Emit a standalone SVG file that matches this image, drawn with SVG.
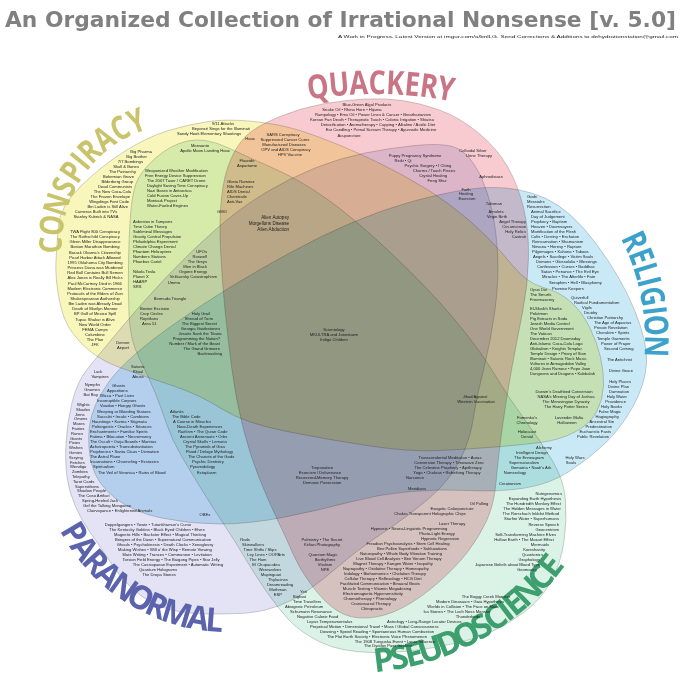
<svg xmlns="http://www.w3.org/2000/svg" width="681" height="681" viewBox="0 0 681 681">
<style>
.s{mix-blend-mode:multiply;stroke:#555;stroke-opacity:.4;stroke-width:.7}
.t{font-family:"Liberation Sans",Arial,sans-serif;font-size:4.15px;fill:#222}
.m{text-anchor:middle}.e{text-anchor:end}
.L{font-family:"Open Sans","DejaVu Sans",sans-serif;font-weight:bold;font-size:33px;text-anchor:middle}
</style>
<rect width="681" height="681" fill="#fff"/>
<g id="title">
<text x="5" y="27" font-family="DejaVu Sans,sans-serif" font-weight="bold" font-size="21" fill="#808080" textLength="671" lengthAdjust="spacingAndGlyphs">An Organized Collection of Irrational Nonsense  [v. 5.0]</text>
<text x="338" y="38" class="t" font-size="4" textLength="340" lengthAdjust="spacingAndGlyphs">A Work in Progress.  Latest Version at imgur.com/a/bnlLG.  Send Corrections &amp; Additions to dehydrationstation@gmail.com</text>
</g>
<g id="sets">
<path id="s-conspiracy" class="s" fill="#f9f6bb" d="M 56,260 Q 57,243 58.5,225 Q 60,207 80,187 Q 100,167 123.5,152 Q 147,137 168.5,130.5 Q 190,124 208.5,121.5 Q 227,119 248.5,121 Q 270,123 285,126.5 Q 300,130 320,137.5 Q 340,145 360,154 Q 380,163 405,176.5 Q 430,190 450,205 Q 470,220 485,235 Q 500,250 513.5,266.5 Q 527,283 543.5,287.5 Q 560,292 571,302 Q 582,312 589.5,327 Q 597,342 600.5,357 Q 604,372 603.5,386 Q 603,400 596.5,412 Q 590,424 575,432 Q 560,440 540,442.5 Q 520,445 495,447 Q 470,449 440,450.5 Q 410,452 370,446 Q 330,440 287,431.5 Q 244,423 222,409 Q 200,395 175,386.5 Q 150,378 132.5,372 Q 115,366 106,361.5 Q 97,357 88.5,350 Q 80,343 71.5,331.5 Q 63,320 59,298.5 Q 55,277 56,260 Z"/>
<path id="s-quackery" class="s" fill="#f8cbd1" d="M 230.5,160 Q 237,145 246,136 Q 255,127 277.5,117.5 Q 300,108 322.5,104 Q 345,100 365,99 Q 385,98 402.5,100.5 Q 420,103 439.5,110 Q 459,117 478,132.5 Q 497,148 507.5,166.5 Q 518,185 523.5,207.5 Q 529,230 528.5,257.5 Q 528,285 522.5,312.5 Q 517,340 511.5,370 Q 506,400 502,430 Q 498,460 496,482.5 Q 494,505 486.5,521 Q 479,537 468,551.5 Q 457,566 439,582 Q 421,598 403,607.5 Q 385,617 367.5,618 Q 350,619 337.5,611 Q 325,603 312.5,586.5 Q 300,570 293.5,555 Q 287,540 277.5,520 Q 268,500 259,477.5 Q 250,455 243,427.5 Q 236,400 232,370 Q 228,340 225,310 Q 222,280 220.5,250 Q 219,220 221.5,197.5 Q 224,175 230.5,160 Z"/>
<path id="s-religion" class="s" fill="#cae9f7" d="M 407,203 Q 460,188 490.5,187.5 Q 521,187 546,198.5 Q 571,210 596,243.5 Q 621,277 634.5,310 Q 648,343 646.5,364 Q 645,385 633,406.5 Q 621,428 605.5,443 Q 590,458 570,471 Q 550,484 525,488 Q 500,492 470,490.5 Q 440,489 410,491.5 Q 380,494 350,502 Q 320,510 285,517 Q 250,524 220,524 Q 190,524 161.5,518 Q 133,512 115,498 Q 97,484 92,465.5 Q 87,447 89.5,426 Q 92,405 109.5,381 Q 127,357 177,322 Q 227,287 290.5,252.5 Q 354,218 407,203 Z"/>
<path id="s-pseudoscience" class="s" fill="#dbf3e7" d="M 130.5,215 Q 132,195 136,183.5 Q 140,172 155,158.5 Q 170,145 187.5,141 Q 205,137 227.5,147.5 Q 250,158 275,169 Q 300,180 327,199 Q 354,218 392,254 Q 430,290 455,320 Q 480,350 495,375 Q 510,400 525,420 Q 540,440 552,460 Q 564,480 565.5,500 Q 567,520 564,541.5 Q 561,563 551,581.5 Q 541,600 523,613 Q 505,626 489,633 Q 473,640 440,646.5 Q 407,653 373.5,652.5 Q 340,652 320,642 Q 300,632 288.5,619.5 Q 277,607 266,591 Q 255,575 245,558 Q 235,541 224,524.5 Q 213,508 202.5,491 Q 192,474 182,457 Q 172,440 167,425 Q 162,410 155,392.5 Q 148,375 139,357.5 Q 130,340 129,315 Q 128,290 128.5,262.5 Q 129,235 130.5,215 Z"/>
<path id="s-paranormal" class="s" fill="#e3e3f5" d="M 72,402.5 Q 77,382 87,369.5 Q 97,357 118.5,331 Q 140,305 165,278.5 Q 190,252 215,230 Q 240,208 265,193 Q 290,178 315,168 Q 340,158 365,153 Q 390,148 415,145.5 Q 440,143 452.5,146.5 Q 465,150 474.5,165 Q 484,180 490,202.5 Q 496,225 497.5,252.5 Q 499,280 495,310 Q 491,340 483.5,370 Q 476,400 473,420 Q 470,440 460,460 Q 450,480 430,497.5 Q 410,515 385,531.5 Q 360,548 342.5,563 Q 325,578 310,589 Q 295,600 278.5,606 Q 262,612 247.5,613 Q 233,614 210,614 Q 187,614 170,609.5 Q 153,605 140,595 Q 127,585 118.5,573.5 Q 110,562 103.5,552 Q 97,542 89.5,531.5 Q 82,521 75.5,506.5 Q 69,492 67,477.5 Q 65,463 66,443 Q 67,423 72,402.5 Z"/>
</g>
<g id="label-conspiracy" fill="#c9c46a">
<text class="L" transform="translate(62,245) rotate(-90) scale(.79,1)">C</text>
<text class="L" transform="translate(63.3,227.1) rotate(-81.5) scale(.79,1)">O</text>
<text class="L" transform="translate(67.8,207.9) rotate(-72.15) scale(.79,1)">N</text>
<text class="L" transform="translate(74.3,191.8) rotate(-63.9) scale(.79,1)">S</text>
<text class="L" transform="translate(82.1,178.3) rotate(-56.55) scale(.79,1)">P</text>
<text class="L" transform="translate(89.3,168.4) rotate(-50.7) scale(.79,1)">I</text>
<text class="L" transform="translate(97.7,159.2) rotate(-44.85) scale(.79,1)">R</text>
<text class="L" transform="translate(110.8,147.9) rotate(-36.6) scale(.79,1)">A</text>
<text class="L" transform="translate(125.4,138.6) rotate(-28.4) scale(.79,1)">C</text>
<text class="L" transform="translate(140.3,131.7) rotate(-20.7) scale(.79,1)">Y</text>
</g>
<g id="label-quackery" fill="#c97585">
<text class="L" transform="translate(319.5,97.9) rotate(-7.97) scale(.82,1)">Q</text>
<text class="L" transform="translate(339.9,95.6) rotate(-5.03) scale(.82,1)">U</text>
<text class="L" transform="translate(359.1,94.3) rotate(-2.28) scale(.82,1)">A</text>
<text class="L" transform="translate(377.1,94) rotate(0.3) scale(.82,1)">C</text>
<text class="L" transform="translate(394.8,94.5) rotate(2.83) scale(.82,1)">K</text>
<text class="L" transform="translate(411.3,95.6) rotate(5.21) scale(.82,1)">E</text>
<text class="L" transform="translate(427.5,97.5) rotate(7.54) scale(.82,1)">R</text>
<text class="L" transform="translate(444,100) rotate(9.94) scale(.82,1)">Y</text>
</g>
<g id="label-religion" fill="#3ca2cb">
<text class="L" transform="translate(624.3,245.8) rotate(65.26) scale(.8,1)">R</text>
<text class="L" transform="translate(630.5,260.5) rotate(69.31) scale(.8,1)">E</text>
<text class="L" transform="translate(635.1,274.1) rotate(72.96) scale(.8,1)">L</text>
<text class="L" transform="translate(638.1,284.6) rotate(75.76) scale(.8,1)">I</text>
<text class="L" transform="translate(641.1,298.3) rotate(79.31) scale(.8,1)">G</text>
<text class="L" transform="translate(643.2,312) rotate(82.86) scale(.8,1)">I</text>
<text class="L" transform="translate(644.6,325.9) rotate(86.4) scale(.8,1)">O</text>
<text class="L" transform="translate(644.9,345.9) rotate(91.5) scale(.8,1)">N</text>
</g>
<g id="label-pseudoscience" fill="#3d9e6e">
<text class="L" font-size="27" transform="translate(385.1,671) rotate(-7.01)">P</text>
<text class="L" font-size="27" transform="translate(401.4,668.5) rotate(-10.61)">S</text>
<text class="L" font-size="27" transform="translate(416.6,665.2) rotate(-14)">E</text>
<text class="L" font-size="27" transform="translate(433.9,660.2) rotate(-17.91)">U</text>
<text class="L" font-size="27" transform="translate(453,653.3) rotate(-22.34)">D</text>
<text class="L" font-size="27" transform="translate(471.5,644.8) rotate(-26.79)">O</text>
<text class="L" font-size="27" transform="translate(487.4,636.1) rotate(-30.72)">S</text>
<text class="L" font-size="27" transform="translate(501.4,627.1) rotate(-34.36)">C</text>
<text class="L" font-size="27" transform="translate(512.2,619.3) rotate(-37.24)">I</text>
<text class="L" font-size="27" transform="translate(521.6,611.9) rotate(-39.87)">E</text>
<text class="L" font-size="27" transform="translate(535.4,599.5) rotate(-43.9)">N</text>
<text class="L" font-size="27" transform="translate(549,585.4) rotate(-48.17)">C</text>
<text class="L" font-size="27" transform="translate(559.7,572.5) rotate(-51.81)">E</text>
</g>
<g id="label-paranormal" fill="#5b63ad">
<text class="L" font-size="30" transform="translate(64.5,538.7) rotate(59.39) scale(.95,1)">P</text>
<text class="L" font-size="30" transform="translate(75.3,555) rotate(53.51) scale(.95,1)">A</text>
<text class="L" font-size="30" transform="translate(87.3,569.6) rotate(47.79) scale(.95,1)">R</text>
<text class="L" font-size="30" transform="translate(100.6,583) rotate(42.08) scale(.95,1)">A</text>
<text class="L" font-size="30" transform="translate(116.8,596.1) rotate(35.81) scale(.95,1)">N</text>
<text class="L" font-size="30" transform="translate(135,607.7) rotate(29.32) scale(.95,1)">O</text>
<text class="L" font-size="30" transform="translate(152.6,616.4) rotate(23.39) scale(.95,1)">R</text>
<text class="L" font-size="30" transform="translate(173.7,624.1) rotate(16.6) scale(.95,1)">M</text>
<text class="L" font-size="30" transform="translate(196.3,629.3) rotate(9.6) scale(.95,1)">A</text>
<text class="L" font-size="30" transform="translate(213.6,631.4) rotate(4.36) scale(.95,1)">L</text>
</g>
<g id="conspiracy-items" class="t">
<text class="e"><tspan x="152" y="153">Big Pharma</tspan><tspan x="147" y="158">Big Brother</tspan><tspan x="143" y="163">7/7 Bombings</tspan><tspan x="139" y="168">Skull &amp; Bones</tspan><tspan x="136" y="173">The Patriarchy</tspan><tspan x="134" y="178">Bohemian Grove</tspan><tspan x="133" y="183">Bilderberg Group</tspan><tspan x="132" y="188">Dead Communists</tspan><tspan x="131" y="193">The New Coca-Cola</tspan><tspan x="130" y="198">The Frozen Envelope</tspan><tspan x="129" y="203">Wingdings Font Code</tspan><tspan x="128" y="208">Bin Laden is Still Alive</tspan></text>
<text class="m"><tspan x="96" y="213">Cameras Built into TVs</tspan><tspan x="96" y="218">Stanley Kubrick &amp; NASA</tspan></text>
<text class="m"><tspan x="95" y="233">TWA Flight 800 Conspiracy</tspan><tspan x="95" y="238.15">The Rothschild Conspiracy</tspan><tspan x="95" y="243.3">Glenn Miller Disappearance</tspan><tspan x="95" y="248.45">Boston Marathon Bombing</tspan><tspan x="95" y="253.6">Barack Obama's Citizenship</tspan><tspan x="95" y="258.75">Pearl Harbor Attack Allowed</tspan><tspan x="95" y="263.9">1995 Oklahoma City Bombing</tspan><tspan x="95" y="269">Princess Diana was Murdered</tspan><tspan x="95" y="274.2">Red Bull Contains Bull Semen</tspan><tspan x="95" y="279.4">Alex Jones is Really Bill Hicks</tspan><tspan x="95" y="284.5">Paul McCartney Died in 1966</tspan><tspan x="95" y="289.7">Modern Electronic Commerce</tspan><tspan x="95" y="294.8">Protocols of the Elders of Zion</tspan><tspan x="95" y="300">Shakespearean Authorship</tspan><tspan x="95" y="305.1">Bin Laden was Already Dead</tspan><tspan x="95" y="310.3">Death of Marilyn Monroe</tspan><tspan x="95" y="315.4">BP Gulf of Mexico Spill</tspan><tspan x="95" y="320.6">Tupac Shakur is Alive</tspan><tspan x="95" y="325.7">New World Order</tspan><tspan x="95" y="330.9">FEMA Camps</tspan><tspan x="95" y="336">Columbine</tspan><tspan x="95" y="341.2">The Plan</tspan><tspan x="95" y="346.3">JFK</tspan></text>
<text class="m"><tspan x="223" y="125">9/11 Attacks</tspan><tspan x="221" y="130">Beyoncé Sings for the Illuminati</tspan><tspan x="209" y="135">Sandy Hook Elementary Shootings</tspan><tspan x="250" y="140">Hoax</tspan></text>
</g>
<g id="conspiracy-pseudoscience-items" class="t">
<text class="m"><tspan x="200" y="147">Monsanto</tspan><tspan x="205" y="152">Apollo Moon Landing Hoax</tspan></text>
<text><tspan x="145" y="172">Weaponized Weather Modification</tspan><tspan x="145" y="177">Free Energy Device Suppression</tspan><tspan x="147" y="182">The 2007 Taser / CARET Drone</tspan><tspan x="147" y="187">Daylight Saving Time Conspiracy</tspan><tspan x="147" y="192">Nazi Bases in Antarctica</tspan><tspan x="147" y="197">Cold Fusion Cover-Up</tspan><tspan x="147" y="202">Montauk Project</tspan><tspan x="147" y="207">Water-Fueled Engines</tspan></text>
<text><tspan x="133" y="223">Asbestos in Tampons</tspan><tspan x="133" y="228">Time Cube Theory</tspan><tspan x="133" y="233">Subliminal Messages</tspan><tspan x="133" y="238">Gravity Control Propulsion</tspan><tspan x="133" y="243">Philadelphia Experiment</tspan><tspan x="133" y="248">Climate Change Denial</tspan><tspan x="133" y="253">Phantom Helicopters</tspan><tspan x="133" y="258">Numbers Stations</tspan><tspan x="133" y="263">Phoebus Cartel</tspan></text>
<text><tspan x="133" y="273">Nikola Tesla</tspan><tspan x="133" y="278">Planet X</tspan><tspan x="133" y="283">HAARP</tspan><tspan x="133" y="288">SRS</tspan></text>
<text class="e"><tspan x="207" y="253">UFOs</tspan><tspan x="207" y="258">Roswell</tspan><tspan x="207" y="263">The Greys</tspan><tspan x="207" y="268">Men in Black</tspan><tspan x="207" y="273">Orgone Energy</tspan><tspan x="217" y="278">Velikovsky Catastrophism</tspan><tspan x="180" y="284">Ummo</tspan></text>
<text class="m" x="170" y="300">Bermuda Triangle</text>
</g>
<g id="conspiracy-quackery-items" class="t">
<text class="m"><tspan x="283" y="136">SARS Conspiracy</tspan><tspan x="285" y="141">Suppressed Cancer Cures</tspan><tspan x="284" y="146">Manufactured Diseases</tspan><tspan x="286" y="151">OPV and AIDS Conspiracy</tspan><tspan x="290" y="156">HPV Vaccine</tspan></text>
<text class="m"><tspan x="247" y="162">Fluoride</tspan><tspan x="247" y="167">Aspartame</tspan></text>
<text><tspan x="227" y="183">Gloria Ramirez</tspan><tspan x="227" y="188">Rife Machines</tspan><tspan x="227" y="193">AIDS Denial</tspan><tspan x="227" y="198">Chemtrails</tspan><tspan x="227" y="203">Anti-Vax</tspan></text>
<text class="m" x="222" y="213">GMO</text>
<text class="e" font-size="4.6"><tspan x="289" y="219">Alien Autopsy</tspan><tspan x="289" y="225">Morgellons Disease</tspan><tspan x="289" y="231">Alien Abduction</tspan></text>
</g>
<g id="conspiracy-paranormal-items" class="t">
<text><tspan x="140" y="310">Bovine Excision</tspan><tspan x="140" y="315">Crop Circles</tspan><tspan x="140" y="320">Reptilians</tspan><tspan x="142" y="325">Area 51</tspan></text>
<text class="e"><tspan x="210" y="315">Holy Grail</tspan><tspan x="213" y="320">Shroud of Turin</tspan><tspan x="217" y="325">The Biggest Secret</tspan><tspan x="220" y="330">Georgia Guidestones</tspan><tspan x="222" y="335">Jesuits Sank the Titanic</tspan><tspan x="220" y="340">Programming the Nation?</tspan><tspan x="220" y="345">Number / Mark of the Beast</tspan><tspan x="220" y="350">The Grand Grimoire</tspan><tspan x="222" y="355">Backmasking</tspan></text>
<text class="m"><tspan x="123" y="344">Denver</tspan><tspan x="123" y="349">Airport</tspan></text>
<text class="m"><tspan x="98" y="373">Luck</tspan><tspan x="100" y="378">Vampires</tspan></text>
<text class="m"><tspan x="138" y="368">Satanic</tspan><tspan x="138" y="373">Ritual</tspan><tspan x="138" y="378">Abuse</tspan></text>
</g>
<g id="quackery-items" class="t">
<text class="m"><tspan x="367" y="106">Blue-Green Algal Products</tspan><tspan x="352" y="111">Snake Oil • Rhino Horn • Hijama</tspan><tspan x="373" y="116">Rumpology • Emu Oil • Power Lines &amp; Cancer • Breatharianism</tspan><tspan x="372" y="121">Korean Fan Death • Therapeutic Touch • Colonic Irrigation • Shiatsu</tspan><tspan x="378" y="126">Detoxification • Aromatherapy • Cupping • Alkaline / Acidic Diet</tspan><tspan x="381" y="131">Ear Candling • Primal Scream Therapy • Ayurvedic Medicine</tspan><tspan x="349" y="137">Acupuncture</tspan></text>
<text class="m"><tspan x="473" y="152">Colloidal Silver</tspan><tspan x="479" y="157">Urine Therapy</tspan><tspan x="491" y="178">Aphrodisiacs</tspan></text>
<text class="m"><tspan x="415" y="157">Puppy Pregnancy Syndrome</tspan><tspan x="403" y="162">Reiki • Qi</tspan><tspan x="428" y="167">Psychic Surgery • I Ching</tspan><tspan x="434" y="172">Charms / Touch Pieces</tspan><tspan x="433" y="177">Crystal Healing</tspan><tspan x="437" y="182">Feng Shui</tspan></text>
<text class="m"><tspan x="466" y="190.5">Faith</tspan><tspan x="466" y="195.3">Healing</tspan><tspan x="467" y="200.1">Exorcism</tspan><tspan x="494" y="205">Talisman</tspan><tspan x="496" y="213">Amulets</tspan><tspan x="497" y="218">Virgin Birth</tspan></text>
<text class="e"><tspan x="526" y="223">Angel Therapy</tspan><tspan x="526" y="228">Circumcision</tspan><tspan x="526" y="233">Holy Relics</tspan><tspan x="526" y="238">Castrati</tspan></text>
</g>
<g id="religion-items" class="t">
<text><tspan x="527" y="198">Gods</tspan><tspan x="527" y="203">Messiahs</tspan><tspan x="527" y="208">Resurrection</tspan><tspan x="531" y="213">Animal Sacrifice</tspan><tspan x="531" y="218">Day of Judgement</tspan><tspan x="531" y="223">Prophecy • Baptism</tspan><tspan x="531" y="228">Heaven • Doomsayers</tspan><tspan x="531" y="233">Mortification of the Flesh</tspan><tspan x="531" y="238">Cults • Destiny • Eschaton</tspan><tspan x="532" y="243">Reincarnation • Shamanism</tspan><tspan x="532" y="248">Nirvana • Heresy • Rapture</tspan><tspan x="532" y="253">Pilgrimages • Kahuna • Taboos</tspan><tspan x="533" y="258">Angels • Sacrilege • Victim Souls</tspan><tspan x="536" y="263">Demons • Glossolalia • Blessings</tspan><tspan x="537" y="268">Confession • Curses • Buddhas</tspan><tspan x="541" y="273">Satan • Penance • The Evil Eye</tspan><tspan x="542" y="278">Miracles • The Afterlife • Fate</tspan><tspan x="549" y="284">Seraphim • Hell • Blasphemy</tspan><tspan x="552" y="290">Promise Keepers</tspan></text>
<text><tspan x="571" y="299">Quiverfull</tspan><tspan x="574" y="304">Radical Fundamentalism</tspan><tspan x="582" y="309">Vigils</tspan><tspan x="584" y="314">Druidry</tspan><tspan x="587" y="319">Christian Patriarchy</tspan><tspan x="594" y="324">The Age of Aquarius</tspan><tspan x="594" y="329">Private Revelation</tspan><tspan x="596" y="334">Cherubim • Spirits</tspan><tspan x="597" y="340">Temple Garments</tspan><tspan x="601" y="345">Power of Prayer</tspan><tspan x="604" y="350">Second Coming</tspan><tspan x="607" y="361">The Antichrist</tspan><tspan x="609" y="372">Divine Grace</tspan></text>
<text class="e"><tspan x="631" y="383">Holy Places</tspan><tspan x="629" y="388">Divine Plan</tspan><tspan x="629" y="393">Damnation</tspan><tspan x="627" y="398">Holy Water</tspan><tspan x="626" y="403">Providence</tspan><tspan x="622" y="408">Holy Books</tspan><tspan x="621" y="413">False Magic</tspan><tspan x="619" y="418">Hagiography</tspan><tspan x="614" y="423">Ancestral Sin</tspan><tspan x="612" y="428">Predestination</tspan><tspan x="611" y="433">Eucharistic Fasts</tspan><tspan x="609" y="438">Public Revelation</tspan></text>
<text class="m"><tspan x="575" y="459">Holy Wars</tspan><tspan x="571" y="464">Souls</tspan></text>
</g>
<g id="conspiracy-religion-items" class="t">
<text><tspan x="530" y="291">Opus Dei</tspan><tspan x="530" y="296">The Smurfs</tspan><tspan x="530" y="301">Freemasonry</tspan><tspan x="530" y="310">El-Sheikh Sharks</tspan><tspan x="530" y="315">Pokémon</tspan><tspan x="530" y="320">Pig Extracts in Soda</tspan><tspan x="530" y="325">Jewish Media Control</tspan><tspan x="530" y="330">One World Government</tspan><tspan x="530" y="335">The Vatican</tspan><tspan x="530" y="340">December 2012 Doomsday</tspan><tspan x="530" y="345">Anti-Islamic Coca-Cola Logo</tspan><tspan x="530" y="350">Globalism • Knights Templar</tspan><tspan x="530" y="355">Temple Design • Priory of Sion</tspan><tspan x="530" y="360">Illuminati • Satanic Rock Music</tspan><tspan x="530" y="365">Vultures in Armageddon Valley</tspan><tspan x="530" y="370">4,000 Jews Rumour • Pope Joan</tspan><tspan x="530" y="375">Dungeons and Dragons • Kabbalah</tspan></text>
<text class="m"><tspan x="564" y="393">Darwin's Deathbed Conversion</tspan><tspan x="566" y="398">NASA's Missing Day of Joshua</tspan><tspan x="566" y="403">The Merovingian Dynasty</tspan><tspan x="566" y="408">The Harry Potter Series</tspan><tspan x="569" y="419">Lavender Mafia</tspan><tspan x="567" y="424">Halloween</tspan></text>
<text class="m"><tspan x="475" y="398">Jihad Against</tspan><tspan x="476" y="403">Western Vaccination</tspan></text>
<text class="m"><tspan x="527" y="419">Fomenko's</tspan><tspan x="527" y="424">Chronology</tspan><tspan x="527" y="433">Holocaust</tspan><tspan x="527" y="438">Denial</tspan></text>
<text class="m"><tspan x="544" y="449">Alchemy</tspan><tspan x="532" y="454">Intelligent Design</tspan><tspan x="529" y="459">The Enneagram</tspan><tspan x="524" y="464">Supernaturalism</tspan><tspan x="531" y="469">Gematria • Noah's Ark</tspan><tspan x="515" y="474">Numerology</tspan><tspan x="510" y="485">Creationism</tspan></text>
</g>
<g id="center-items" class="t">
<text class="m"><tspan x="334" y="331">Scientology</tspan><tspan x="334" y="336">MKULTRA and Jonestown</tspan><tspan x="334" y="341">Indigo Children</tspan></text>
<text class="m"><tspan x="322" y="469">Trepanation</tspan><tspan x="320" y="474">Exorcism / Deliverance</tspan><tspan x="322" y="479">Recovered-Memory Therapy</tspan><tspan x="322" y="484">Demonic Possession</tspan></text>
<text class="m"><tspan x="450" y="459">Transcendental Meditation • Auras</tspan><tspan x="449" y="464">Conversion Therapy • Timewave Zero</tspan><tspan x="448" y="469">The Celestine Prophecy • Apitherapy</tspan><tspan x="447" y="474">Yoga • Chakras • Rebirthing Therapy</tspan><tspan x="415" y="479">Narconon</tspan><tspan x="417" y="490">Meridians</tspan></text>
</g>
<g id="pseudoscience-items" class="t">
<text class="e"><tspan x="562" y="495">Nutrigenomics</tspan><tspan x="561" y="500">Expanding Earth Hypothesis</tspan><tspan x="561" y="505">The Hundredth Monkey Effect</tspan><tspan x="561" y="510">The Hidden Messages in Water</tspan><tspan x="559" y="515">The Rorschach Inkblot Method</tspan><tspan x="559" y="520">Starfire Water • Superhumans</tspan><tspan x="559" y="526">Reverse Speech</tspan><tspan x="559" y="531">Geocentrism</tspan><tspan x="556" y="536">Self-Transforming Machine Elves</tspan><tspan x="554" y="541">Hollow Earth • The Mozart Effect</tspan><tspan x="549" y="546">Mermaids</tspan><tspan x="545" y="551">Koreshanity</tspan><tspan x="543" y="556">Quantonics</tspan><tspan x="540" y="561">Graphology</tspan><tspan x="540" y="566">Japanese Beliefs about Blood Type</tspan><tspan x="537" y="571">Geomancy</tspan></text>
<text class="m"><tspan x="486" y="598">The Boggy Creek Monster</tspan><tspan x="470" y="603">Modern Dinosaurs • Gaia Hypothesis</tspan><tspan x="463" y="608">Worlds in Collision • The Face on Mars</tspan><tspan x="457" y="613">Ica Stones • The Loch Ness Monster</tspan><tspan x="468" y="618">Thunderbirds</tspan></text>
<text><tspan x="300" y="593">Yeti</tspan><tspan x="293" y="598">Bigfoot</tspan><tspan x="293" y="603">Time Travellers</tspan><tspan x="285" y="608">Abiogenic Petroleum</tspan><tspan x="290" y="613">Schumann Resonance</tspan><tspan x="297" y="618">Negative Calorie Food</tspan><tspan x="307" y="623">Lepus Temperamentalus</tspan><tspan x="387" y="623">Astrology • Long-Range Locator Devices</tspan><tspan x="310" y="628">Perpetual Motion • Dimensional Travel • Mass / Global Consciousness</tspan><tspan x="320" y="633">Dowsing • Speed Reading • Spontaneous Human Combustion</tspan><tspan x="327" y="638">The Flat Earth Society • Electronic Voice Phenomenon</tspan></text>
<text class="m"><tspan x="395" y="642.5">The 1908 Tunguska Event • Lunar Influence</tspan><tspan x="388" y="647">The Dyatlov Pass Incident</tspan></text>
</g>
<g id="quackery-pseudoscience-items" class="t">
<text class="m"><tspan x="479" y="505">Oil Pulling</tspan><tspan x="452" y="510">Esogetic Colorpuncture</tspan><tspan x="430" y="515">Chakra Transparent Holographic Chips</tspan><tspan x="452" y="525">Laser Therapy</tspan><tspan x="409" y="530">Hypnosis • Neuro-Linguistic Programming</tspan><tspan x="437" y="535">Photo-Light Energy</tspan><tspan x="440" y="540">Hypnotic Regression</tspan><tspan x="408" y="545">Freudian Psychoanalysis • Stem Cell Healing</tspan><tspan x="412" y="550">Bee Pollen Superfoods • Subluxations</tspan><tspan x="401" y="555">Naturopathy • Whole Body Vibration Training</tspan><tspan x="399" y="560">Live Blood Cell Analysis • Bee Venom Therapy</tspan><tspan x="393" y="565">Magnet Therapy • Kangen Water • Isopathy</tspan><tspan x="386" y="570">Naprapathy • Oxidative Therapy • Homeopathy</tspan><tspan x="385" y="575">Iridology • Bioharmonics • Chelation Therapy</tspan><tspan x="383" y="580">Cellular Therapy • Reflexology • HCG Diet</tspan><tspan x="380" y="585">Facilitated Communication • Binaural Beats</tspan><tspan x="377" y="590">Muscle Testing • Vitamin Megadosing</tspan><tspan x="373" y="595">Electromagnetic Hypersensitivity</tspan><tspan x="370" y="600">Chromotherapy • Phrenology</tspan><tspan x="371" y="605">Craniosacral Therapy</tspan><tspan x="372" y="610">Chiropractic</tspan></text>
<text class="m"><tspan x="322" y="541">Palmistry • The Secret</tspan><tspan x="322" y="546">Kirlian Photography</tspan><tspan x="323" y="556">Quantum Magic</tspan><tspan x="325" y="561">Biorhythms</tspan><tspan x="325" y="566">Vitalism</tspan><tspan x="325" y="571">NPE</tspan></text>
</g>
<g id="paranormal-items" class="t">
<text class="e"><tspan x="100" y="386">Nymphs</tspan><tspan x="100" y="391">Gnomes</tspan><tspan x="98" y="396">Bat Boy</tspan></text>
<text><tspan x="77" y="406">Wights</tspan><tspan x="76" y="410.8">Shades</tspan><tspan x="75" y="415.6">Jinns</tspan><tspan x="74" y="420.4">Omens</tspan><tspan x="73" y="425.2">Mares</tspan><tspan x="72" y="430">Fairies</tspan><tspan x="71" y="434.8">Runes</tspan><tspan x="70" y="439.6">Giants</tspan><tspan x="69" y="444.4">Pixies</tspan><tspan x="69" y="449.2">Wishes</tspan><tspan x="69" y="454">Genies</tspan><tspan x="69" y="458.8">Scrying</tspan><tspan x="70" y="463.6">Fetches</tspan><tspan x="70" y="468.4">Wendigo</tspan><tspan x="72" y="473.2">Zombies</tspan><tspan x="72" y="478">Telepathy</tspan><tspan x="73" y="482.8">Tarot Cards</tspan><tspan x="75" y="487.6">Superstitions</tspan><tspan x="77" y="492.4">Shadow People</tspan><tspan x="78" y="497.2">The Coso Artifact</tspan><tspan x="82" y="502">Spring-Heeled Jack</tspan><tspan x="83" y="506.8">Gef the Talking Mongoose</tspan><tspan x="87" y="511.6">Clairvoyance • Enlightened Animals</tspan></text>
<text class="m"><tspan x="148" y="526">Doppelgangers • Yowie • Tutankhamun's Curse</tspan><tspan x="157" y="531">The Kentucky Goblins • Black Eyed Children • Elves</tspan><tspan x="160" y="536">Magnetic Hills • Backster Effect • Magical Thinking</tspan><tspan x="163" y="541">Bringers of the Dawn • Supernatural Communication</tspan><tspan x="165" y="546">Ghouls • Psychokinesis • Death Clocks • Xenoglossy</tspan><tspan x="165" y="551">Making Wishes • Will o' the Wisp • Remote Viewing</tspan><tspan x="167" y="556">Slate Writing • Trances • Communion • Levitation</tspan><tspan x="171" y="561">Torsion Field Energy • The Baigong Pipes • Star Jelly</tspan><tspan x="178" y="566">The Cassiopaean Experiment • Automatic Writing</tspan><tspan x="158" y="571">Quantum Holograms</tspan><tspan x="159" y="576">The Dropa Stones</tspan></text>
</g>
<g id="paranormal-religion-items" class="t">
<text><tspan x="112" y="387">Ghosts</tspan><tspan x="107" y="392">Apparitions</tspan><tspan x="100" y="397">Wicca • Past Lives</tspan><tspan x="97" y="402">Incorruptible Corpses</tspan><tspan x="100" y="407">Voodoo • Hungry Ghosts</tspan><tspan x="97" y="413">Weeping or Bleeding Statues</tspan><tspan x="97" y="418">Succubi • Incubi • Cambions</tspan><tspan x="92" y="423">Hauntings • Karma • Stigmata</tspan><tspan x="92" y="428">Poltergeists • Oracles • Séances</tspan><tspan x="90" y="433">Enchantments • Familiar Spirits</tspan><tspan x="90" y="438">Fatima • Bilocation • Necromancy</tspan><tspan x="90" y="443">The Occult • Ouija Boards • Mantras</tspan><tspan x="90" y="448">Acheiropoieta • Transubstantiation</tspan><tspan x="90" y="453">Prophecies • Santa Claus • Divination</tspan><tspan x="90" y="458">The Astral Plane</tspan><tspan x="90" y="463">Incarnations • Channeling • Ecstasies</tspan><tspan x="93" y="468">Spiritualism</tspan><tspan x="98" y="474">The Veil of Veronica • Rains of Blood</tspan></text>
<text><tspan x="170" y="413">Atlantis</tspan><tspan x="172" y="418">The Bible Code</tspan><tspan x="173" y="423">A Course in Miracles</tspan><tspan x="177" y="428">Near-Death Experiences</tspan><tspan x="178" y="433">Raëlism • The Quran Code</tspan><tspan x="180" y="438">Ancient Astronauts • Orbs</tspan><tspan x="183" y="443">Crystal Skulls • Lemuria</tspan><tspan x="185" y="448">The Pyramids of Giza</tspan><tspan x="186" y="453">Flood / Deluge Mythology</tspan><tspan x="188" y="458">The Chariots of the Gods</tspan><tspan x="192" y="463">Psychic Dentistry</tspan><tspan x="190" y="468">Pyramidology</tspan><tspan x="197" y="474">Ectoplasm</tspan></text>
<text class="m" x="205" y="516">OBEs</text>
</g>
<g id="paranormal-pseudoscience-items" class="t">
<text class="m"><tspan x="245" y="541">Rods</tspan><tspan x="253" y="546">Skinwalkers</tspan><tspan x="260" y="551">Time Shifts / Slips</tspan><tspan x="266" y="556">Ley Lines • OOPArts</tspan><tspan x="258" y="561">The Hum</tspan><tspan x="266" y="566">El Chupacabra</tspan><tspan x="270" y="571">Werewolves</tspan><tspan x="271" y="576">Mapinguari</tspan><tspan x="278" y="581">Thylacines</tspan><tspan x="280" y="586">Dreamreading</tspan><tspan x="278" y="591">Mothman</tspan><tspan x="278" y="596">ESP</tspan></text>
</g>
</svg>
